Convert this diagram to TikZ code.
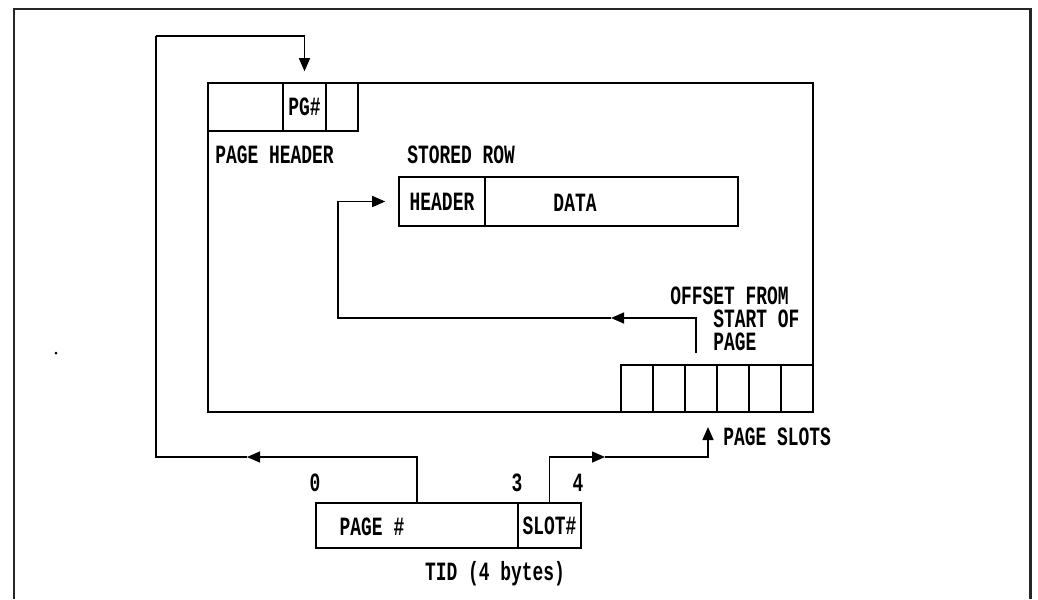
\documentclass[tikz,border=0pt]{standalone}
\usepackage{fontspec}
\newfontfamily\plotfont[FakeStretch=0.68]{Liberation Mono}
\usepackage{tikz}
\usetikzlibrary{arrows.meta}

\begin{document}
\begin{tikzpicture}[x=0.02cm,y=-0.02cm,
	font=\plotfont\bfseries\fontsize{15pt}{13pt}\selectfont,
	cell/.style={draw,line width=0.9pt,inner sep=0pt},
	conn/.style={line width=0.8pt},
	tip/.style={-{Triangle[length=0.26cm,width=0.22cm]}},
	lbl/.style={inner sep=0pt}]
			\useasboundingbox (0,0) rectangle (1038,599);
			\draw[line width=1.7pt,black!85] (14,599) -- (14,9) -- (1030,9) -- (1030,599);
			\fill (56,353) circle (1.5);
			% page and its header
			\node[cell,minimum width=12.1cm,minimum height=6.58cm] (page) at (510.5,247.5) {};
			\node[cell,minimum width=1.5cm,minimum height=0.96cm] (hda) at (245.5,107) {};
			\node[cell,minimum width=0.86cm,minimum height=0.96cm] (pg) at (304.5,107) {PG\#};
			\node[cell,minimum width=0.64cm,minimum height=0.96cm] (hdc) at (342,107) {};
			\node[lbl,anchor=west] (pghead) at (215,155) {PAGE HEADER};
			% stored row
			\node[lbl,anchor=west] (srow) at (407,155) {STORED ROW};
			\node[cell,minimum width=1.72cm,minimum height=0.98cm] (hdr) at (442,201.5) {HEADER};
			\node[cell,minimum width=5.06cm,minimum height=0.98cm] (data) at (611.5,201.5) {};
			\node[lbl] (datatxt) at (575,203) {DATA};
			% slots
			\foreach \i in {0,...,5}{
				\node[cell,minimum width=0.64cm,minimum height=0.94cm] (slot\i) at ({637+32*\i},388.5) {};
			}
			\node[lbl,anchor=north west,align=left] (offset) at (670,287) {OFFSET FROM\\\phantom{OFFS}START OF\\\phantom{OFFS}PAGE};
			\node[lbl,anchor=west] (pslots) at (723,437) {PAGE SLOTS};
			% TID
			\node[cell,minimum width=4.04cm,minimum height=0.9cm] (tidpage) at (417,525.5) {};
			\node[cell,minimum width=1.26cm,minimum height=0.9cm] (tidslot) at (549.5,525.5) {SLOT\#};
			\node[lbl] (pnum) at (372,527) {PAGE \#};
			\node[lbl] (tid) at (495,574) {TID (4 bytes)};
			\node[lbl] (b0) at (315,483) {0};
			\node[lbl] (b3) at (517,483) {3};
			\node[lbl] (b4) at (578,483) {4};
			% connectors
			\coordinate (m1) at (247,457);
			\coordinate (bl) at (156,457);
			\coordinate (tl) at (156,36);
			\coordinate (m2) at (605,457);
			\coordinate (ps) at (708,427);
			\coordinate (off) at (696,353);
			\coordinate (m3) at (611,318);
			\coordinate (ol) at (338,318);
			\draw[conn,tip] (tidpage.north) |- (m1);
			\draw[conn] (m1) -- (bl) -- (tl);
			\draw[conn,tip,shorten >=0.22cm] (tl) -| (pg.north);
			\draw[conn,tip] (tidslot.north) |- (m2);
			\draw[conn,tip] (m2) -| (ps);
			\draw[conn,tip] (off) |- (m3);
			\draw[conn,tip,shorten >=0.26cm] (m3) -- (ol) |- (hdr.west);
		\end{tikzpicture}
\end{document}
